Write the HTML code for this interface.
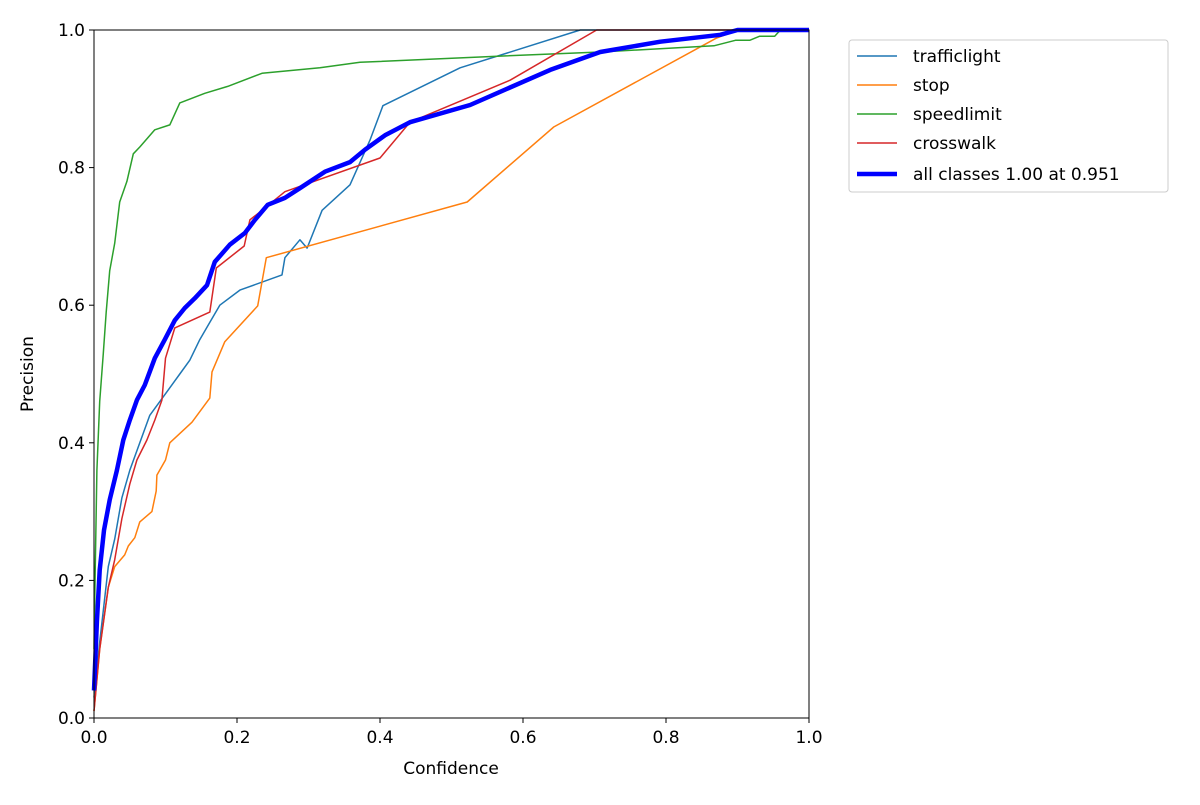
<!DOCTYPE html>
<html><head><meta charset="utf-8"><style>
body{margin:0;background:#fff;font-family:"Liberation Sans","DejaVu Sans",sans-serif;}
svg text{font-family:"DejaVu Sans","Liberation Sans",sans-serif;}
</style></head><body>
<svg id="chart" width="1200" height="800" viewBox="0 0 1200 800"></svg>
<script>
const seriesNames=["trafficlight","stop","speedlimit","crosswalk","all classes 1.00 at 0.951"];
const seriesColors=["#1f77b4","#ff7f0e","#2ca02c","#d62728","#0000ff"];
const xTicks=[0,0.2,0.4,0.6,0.8,1.0];
const yTicks=[0,0.2,0.4,0.6,0.8,1.0];
const trafficX=[0,0.008,0.02,0.029,0.039,0.05,0.064,0.078,0.106,0.12,0.134,0.148,0.162,0.176,0.204,0.263,0.267,0.288,0.298,0.319,0.358,0.386,0.404,0.512,0.68,1];
const trafficY=[0.03,0.11,0.22,0.26,0.32,0.36,0.4,0.44,0.48,0.5,0.52,0.55,0.575,0.6,0.622,0.644,0.669,0.695,0.683,0.738,0.775,0.84,0.89,0.945,1,1];
const stopX=[0,0.008,0.02,0.029,0.043,0.048,0.057,0.064,0.081,0.087,0.088,0.1,0.106,0.137,0.162,0.165,0.183,0.229,0.241,0.522,0.643,0.87,0.9,1];
const stopY=[0.01,0.1,0.19,0.22,0.237,0.25,0.262,0.285,0.3,0.33,0.353,0.375,0.4,0.43,0.465,0.503,0.547,0.599,0.669,0.75,0.859,0.988,1,1];
const speedX=[0,0.001,0.004,0.008,0.013,0.017,0.022,0.029,0.036,0.046,0.055,0.064,0.085,0.106,0.12,0.155,0.187,0.235,0.316,0.372,0.568,0.708,0.867,0.897,0.917,0.931,0.952,0.96,1];
const speedY=[0.1,0.17,0.36,0.46,0.53,0.59,0.65,0.69,0.75,0.78,0.82,0.83,0.855,0.862,0.894,0.908,0.918,0.937,0.945,0.953,0.962,0.968,0.977,0.985,0.985,0.991,0.991,1,1];
const crossX=[0,0.008,0.02,0.029,0.039,0.05,0.06,0.074,0.085,0.095,0.1,0.113,0.162,0.171,0.21,0.218,0.235,0.267,0.4,0.442,0.582,0.703,1];
const crossY=[0.01,0.1,0.19,0.23,0.29,0.34,0.375,0.404,0.433,0.462,0.523,0.567,0.59,0.654,0.686,0.724,0.738,0.765,0.814,0.866,0.927,1,1];
const allX=[0,0.004,0.008,0.014,0.022,0.032,0.041,0.05,0.06,0.071,0.085,0.099,0.113,0.127,0.141,0.158,0.169,0.19,0.211,0.225,0.243,0.267,0.288,0.323,0.358,0.379,0.407,0.442,0.526,0.638,0.708,0.792,0.876,0.9,1];
const allY=[0.04,0.14,0.215,0.273,0.317,0.36,0.404,0.433,0.462,0.484,0.523,0.55,0.578,0.596,0.61,0.629,0.663,0.688,0.705,0.724,0.746,0.756,0.77,0.794,0.808,0.826,0.847,0.866,0.891,0.942,0.968,0.983,0.993,1,1];
const NS="http://www.w3.org/2000/svg";
const svg=document.getElementById('chart');
const L=94,R=809,T=30,B=718;
const sx=v=>L+v*(R-L), sy=v=>B-v*(B-T);
function mk(t,a,p){const e=document.createElementNS(NS,t);for(const k in a)e.setAttribute(k,a[k]);(p||svg).appendChild(e);return e;}
const series=[[trafficX,trafficY],[stopX,stopY],[speedX,speedY],[crossX,crossY],[allX,allY]];
const plot=mk('g',{});


series.forEach((s,i)=>{
  const d=s[0].map((x,j)=>(j?'L':'M')+sx(x).toFixed(1)+','+sy(s[1][j]).toFixed(1)).join('');
  const p=mk('path',{d:d,fill:'none',stroke:seriesColors[i],'stroke-width':i==4?4.5:1.5,'stroke-linejoin':'round'},plot);
  
  
});
const frame=mk('rect',{x:L,y:T,width:R-L,height:B-T,fill:'none',stroke:'#000','stroke-width':1});


xTicks.forEach(v=>{
  const x=sx(v);
  mk('line',{x1:x,x2:x,y1:B,y2:B+5,stroke:'#000'});
  const t=mk('text',{x:x,y:B+25,'text-anchor':'middle','font-size':17});
  t.textContent=v.toFixed(1);
  
  
});
yTicks.forEach(v=>{
  const y=sy(v);
  mk('line',{x1:L-5,x2:L,y1:y,y2:y,stroke:'#000'});
  const t=mk('text',{x:L-9,y:y+6,'text-anchor':'end','font-size':17});
  t.textContent=v.toFixed(1);
  
  
});
const xl=mk('text',{x:451,y:774,'text-anchor':'middle','font-size':17});
xl.textContent='Confidence';


const yl=mk('text',{x:38,y:374,'text-anchor':'middle','font-size':17,transform:'rotate(-90 38 374) translate(0 -5)'});
yl.textContent='Precision';


const lg=mk('g',{});


mk('rect',{x:849,y:40,width:319,height:152,rx:3,fill:'#fff',stroke:'#ccc'},lg);
const ly=[56,85,114,143,174];
seriesNames.forEach((n,i)=>{
  const g=mk('g',{},lg);
  
  
  mk('line',{x1:857,x2:897,y1:ly[i],y2:ly[i],stroke:seriesColors[i],'stroke-width':i==4?4.5:1.5},g);
  const t=mk('text',{x:913,y:ly[i]+6,'font-size':17},g);
  t.textContent=n;
});
</script>
</body></html>
